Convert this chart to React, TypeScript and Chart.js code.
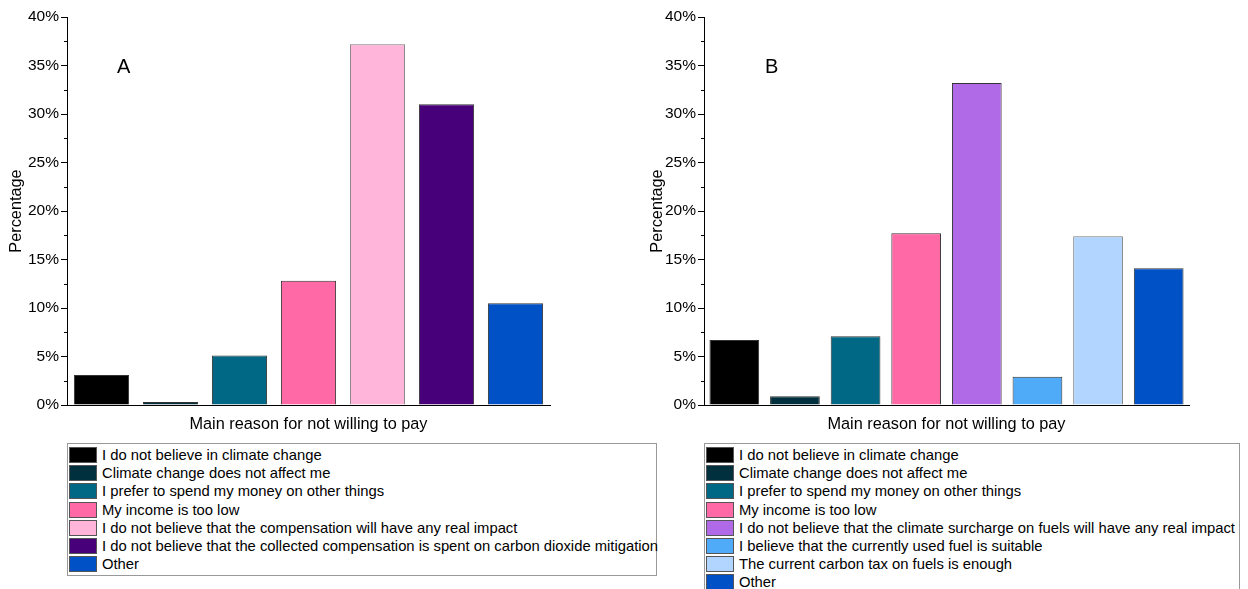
import React, { useEffect, useRef } from "react";
import { Chart, registerables } from "chart.js";

Chart.register(...registerables);

// ---------- Data ----------
const categoriesA = [
  "I do not believe in climate change",
  "Climate change does not affect me",
  "I prefer to spend my money on other things",
  "My income is too low",
  "I do not believe that the compensation will have any real impact",
  "I do not believe that the collected compensation is spent on carbon dioxide mitigation",
  "Other",
];
const valuesA = [3.1, 0.3, 5.1, 12.8, 37.2, 31.0, 10.5];
const colorsA = ["#000000", "#00303d", "#006784", "#ff69a5", "#ffb5da", "#48007a", "#0050c6"];

const categoriesB = [
  "I do not believe in climate change",
  "Climate change does not affect me",
  "I prefer to spend my money on other things",
  "My income is too low",
  "I do not believe that the climate surcharge on fuels will have any real impact",
  "I believe that the currently used fuel is suitable",
  "The current carbon tax on fuels is enough",
  "Other",
];
const valuesB = [6.7, 0.9, 7.1, 17.7, 33.2, 2.9, 17.4, 14.1];
const colorsB = ["#000000", "#00303d", "#006784", "#ff69a5", "#b06ae8", "#4faaf8", "#b1d5fe", "#0050c6"];

const yTicks = [0, 5, 10, 15, 20, 25, 30, 35, 40];
const xTitle = "Main reason for not willing to pay";
const yTitle = "Percentage";

const FONT = "Arial, 'Liberation Sans', sans-serif";

const minorTicks = {
  id: "minorTicks",
  afterDraw(chart: any) {
    const y = chart.scales.y;
    const ctx = chart.ctx;
    ctx.save();
    ctx.strokeStyle = "#000";
    ctx.lineWidth = 1;
    for (let v = 2.5; v < 40; v += 5) {
      const py = Math.round(y.getPixelForValue(v)) + 0.5;
      ctx.beginPath();
      ctx.moveTo(y.right - 3, py);
      ctx.lineTo(y.right, py);
      ctx.stroke();
    }
    ctx.restore();
  },
};

function BarChart(props: {
  labels: string[];
  values: number[];
  colors: string[];
  yWidth: number;
  padRight: number;
  barPct: number;
  width: number;
  height: number;
}) {
  const ref = useRef<HTMLCanvasElement>(null);
  useEffect(() => {
    const chart = new Chart(ref.current!, {
      type: "bar",
      data: {
        labels: props.labels,
        datasets: [
          {
            data: props.values,
            backgroundColor: props.colors,
            borderColor: props.colors.map((c) => (c === "#ffb5da" || c === "#b1d5fe" ? "#777" : "#333")),
            borderWidth: 1,
            borderSkipped: "bottom",
            barPercentage: props.barPct,
            categoryPercentage: 1,
          },
        ],
      },
      options: {
        animation: false,
        responsive: false,
        maintainAspectRatio: false,
        layout: { padding: { top: 17, right: props.padRight, left: 0, bottom: 0 } },
        plugins: { legend: { display: false }, tooltip: { enabled: false } },
        scales: {
          x: {
            grid: { display: false },
            border: { display: true, color: "#000", width: 1 },
            ticks: { display: false },
            title: {
              display: true,
              text: xTitle,
              color: "#000",
              font: { family: FONT, size: 16.3 },
              padding: { top: 0, bottom: 6 },
            },
            afterFit: (s: any) => {
              s.height = 35;
            },
          },
          y: {
            min: 0,
            max: 40,
            afterBuildTicks: (s: any) => {
              s.ticks = yTicks.map((v) => ({ value: v }));
            },
            ticks: {
              color: "#000",
              font: { family: FONT, size: 15.5 },
              padding: 2,
              callback: (v: any) => v + "%",
            },
            grid: { drawOnChartArea: false, tickLength: 6, color: "#000" },
            border: { display: true, color: "#000", width: 1 },
            title: {
              display: true,
              text: yTitle,
              color: "#000",
              font: { family: FONT, size: 16.3 },
              padding: { top: 7, bottom: 0 },
            },
            afterFit: (s: any) => {
              s.width = props.yWidth;
            },
          },
        },
      },
      plugins: [minorTicks],
    });
    return () => chart.destroy();
  }, []);
  return <canvas ref={ref} width={props.width} height={props.height} style={{ display: "block", width: props.width, height: props.height }} />;
}

function Legend(props: { labels: string[]; colors: string[] }) {
  return (
    <div
      style={{
        border: "1px solid #999",
        padding: "2px 0 2px 1px",
        fontFamily: FONT,
        fontSize: 14.8,
        color: "#000",
      }}
    >
      {props.labels.map((l, i) => (
        <div key={i} style={{ display: "flex", alignItems: "center", height: 18.2 }}>
          <div
            style={{
              width: 26,
              height: 14,
              background: props.colors[i],
              border: "1px solid #555",
              marginRight: 5,
              flex: "none",
            }}
          />
          <span style={{ whiteSpace: "nowrap", lineHeight: "16px" }}>{l}</span>
        </div>
      ))}
    </div>
  );
}

export default function App() {
  return (
    <div style={{ position: "fixed", left: 0, top: 0, width: 1248, height: 589, background: "#fff", overflow: "hidden" }}>
      <div style={{ position: "absolute", left: 0, top: 0 }}>
        <BarChart labels={categoriesA} values={valuesA} colors={colorsA} yWidth={67} padRight={10} barPct={0.8} width={560} height={440} />
      </div>
      <div style={{ position: "absolute", left: 117, top: 55, fontFamily: FONT, fontSize: 20 }}>A</div>
      <div style={{ position: "absolute", left: 641, top: 0 }}>
        <BarChart labels={categoriesB} values={valuesB} colors={colorsB} yWidth={63} padRight={12} barPct={0.82} width={560} height={440} />
      </div>
      <div style={{ position: "absolute", left: 765, top: 55, fontFamily: FONT, fontSize: 20 }}>B</div>
      <div style={{ position: "absolute", left: 67, top: 443, width: 590 }}>
        <Legend labels={categoriesA} colors={colorsA} />
      </div>
      <div style={{ position: "absolute", left: 704, top: 443, width: 536 }}>
        <Legend labels={categoriesB} colors={colorsB} />
      </div>
    </div>
  );
}
